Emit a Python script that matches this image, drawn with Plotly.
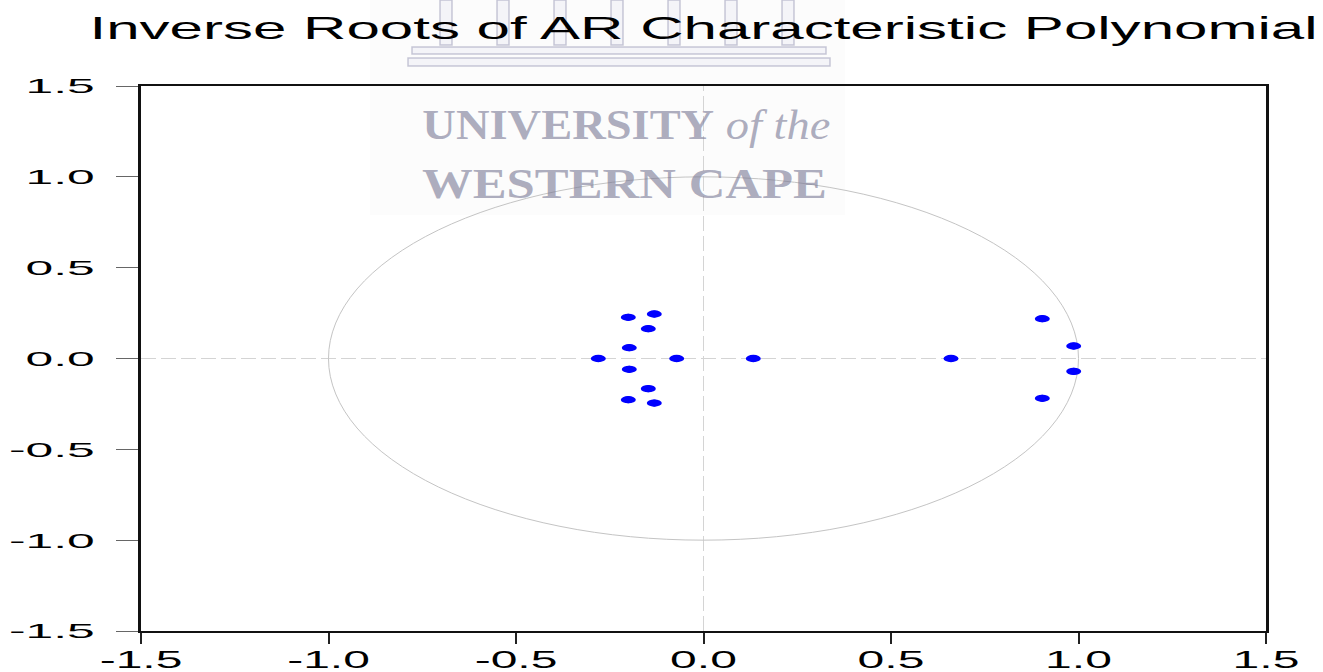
import plotly.graph_objects as go

# ---- data ----
root_re = [-0.2005, -0.1312, -0.1472, -0.1979, -0.2805, -0.0715, 0.1328, 0.660,
           -0.1979, -0.1472, -0.2005, -0.1312, 0.9035, 0.9872, 0.9872, 0.9035]
root_im = [0.2268, 0.245, 0.164, 0.0594, 0.0, 0.0, 0.0, 0.0,
           -0.0594, -0.166, -0.2268, -0.245, 0.219, 0.0688, -0.0705, -0.219]
tick_vals = [-1.5, -1.0, -0.5, 0.0, 0.5, 1.0, 1.5]
tick_text = ["-1.5", "-1.0", "-0.5", "0.0", "0.5", "1.0", "1.5"]
unit_radius = 1.0
axis_range = [-1.5, 1.5]
title_text = "Inverse Roots of AR Characteristic Polynomial"
watermark_line1 = "<b>UNIVERSITY</b> <i>of the</i>"
watermark_line2 = "<b>WESTERN CAPE</b>"

W, H = 1323, 672
ML, MR, MT, MB = 141, 57, 86, 41
PW, PH = W - ML - MR, H - MT - MB


def px(xp):
    return (xp - ML) / PW


def py(yp):
    return (H - MB - yp) / PH


dot_r = 0.02
BLUE = "#0000ff"

fig = go.Figure()
fig.add_trace(go.Scatter(
    x=root_re, y=root_im, mode="markers",
    marker=dict(color=BLUE, size=7, line=dict(width=0)),
    hoverinfo="x+y", showlegend=False))

shapes = []
# faint watermark backdrop
shapes.append(dict(type="rect", xref="paper", yref="paper",
                   x0=px(370), x1=px(845), y0=py(215), y1=py(0),
                   fillcolor="rgba(0,0,0,0.012)", line=dict(width=0), layer="below"))
# watermark pillars
pil_line = dict(color="rgba(150,150,180,0.5)", width=1.5)
pil_fill = "rgba(230,230,240,0.35)"
for c in [446, 503, 560, 617, 674, 731, 788]:
    shapes.append(dict(type="rect", xref="paper", yref="paper",
                       x0=px(c - 6), x1=px(c + 6), y0=py(45), y1=py(0),
                       fillcolor=pil_fill, line=pil_line, layer="above"))
shapes.append(dict(type="rect", xref="paper", yref="paper",
                   x0=px(412), x1=px(826), y0=py(54), y1=py(47),
                   fillcolor=pil_fill, line=pil_line, layer="above"))
shapes.append(dict(type="rect", xref="paper", yref="paper",
                   x0=px(408), x1=px(830), y0=py(66), y1=py(58),
                   fillcolor=pil_fill, line=pil_line, layer="above"))

# dashed axes through origin
shapes.append(dict(type="line", xref="x", yref="y", x0=0, x1=0,
                   y0=axis_range[0], y1=axis_range[1],
                   line=dict(color="#d4d4d4", width=1, dash="15px,5px"), layer="below"))
shapes.append(dict(type="line", xref="x", yref="y", y0=0, y1=0,
                   x0=axis_range[0], x1=axis_range[1],
                   line=dict(color="#d4d4d4", width=1, dash="15px,5px"), layer="below"))
# unit circle
shapes.append(dict(type="circle", xref="x", yref="y",
                   x0=-unit_radius, x1=unit_radius, y0=-unit_radius, y1=unit_radius,
                   line=dict(color="#c4c4c4", width=1), layer="below"))
# root dots
for xr, yi in zip(root_re, root_im):
    shapes.append(dict(type="circle", xref="x", yref="y",
                       x0=xr - dot_r, x1=xr + dot_r, y0=yi - dot_r, y1=yi + dot_r,
                       fillcolor=BLUE, line=dict(width=0), layer="above"))

wm_color = "rgba(120,120,148,0.6)"
annotations = [
    dict(text=watermark_line1, xref="paper", yref="paper", x=px(626), y=py(125),
         xanchor="center", yanchor="middle", showarrow=False,
         font=dict(family="Liberation Serif", size=42, color=wm_color)),
    dict(text=watermark_line2, xref="paper", yref="paper", x=px(624), y=py(184),
         xanchor="center", yanchor="middle", showarrow=False,
         font=dict(family="Liberation Serif", size=42, color=wm_color)),
]

fig.update_layout(
    width=W, height=H,
    margin=dict(l=ML, r=MR, t=MT, b=MB, pad=0, autoexpand=False),
    paper_bgcolor="white", plot_bgcolor="white",
    showlegend=False,
    title=dict(text=title_text, x=0.5, xref="paper", xanchor="center",
               y=1 - 28 / H, yref="container", yanchor="middle",
               font=dict(family="Liberation Sans", size=32, color="black")),
    shapes=shapes,
    annotations=annotations,
    xaxis=dict(range=axis_range, tickmode="array", tickvals=tick_vals, ticktext=tick_text,
               showgrid=False, zeroline=False, showline=True, mirror=True,
               linecolor="#111111", linewidth=2, automargin=False,
               ticks="outside", ticklen=11, tickwidth=1.5, tickcolor="#222222",
               ticklabelstandoff=-5,
               tickfont=dict(family="Liberation Sans", size=24, color="black"),
               fixedrange=True),
    yaxis=dict(range=axis_range, tickmode="array", tickvals=tick_vals, ticktext=tick_text,
               showgrid=False, zeroline=False, showline=True, mirror=True,
               linecolor="#111111", linewidth=3, automargin=False,
               ticks="outside", ticklen=22, tickwidth=1, tickcolor="#666666",
               ticklabelstandoff=17,
               tickfont=dict(family="Liberation Sans", size=21, color="black"),
               fixedrange=True),
)

# horizontal stretch of the text, as in the (horizontally stretched) reference picture
post = (
    "var gd=document.getElementById('{plot_id}');"
    "function fitF(el,f){if(!el)return;var w=el.getComputedTextLength();"
    "el.setAttribute('textLength',(w*f).toFixed(1));el.setAttribute('lengthAdjust','spacingAndGlyphs');}"
    "function fitW(el,w){if(!el)return;el.setAttribute('textLength',w);el.setAttribute('lengthAdjust','spacingAndGlyphs');}"
    "fitW(gd.querySelector('.gtitle'),1228);"
    "gd.querySelectorAll('.ytick text').forEach(function(t){fitF(t,2.37);});"
    "gd.querySelectorAll('.xtick text').forEach(function(t){fitF(t,2.0);});"
    "var an=gd.querySelectorAll('.annotation-text');"
    "if(an.length>1){fitW(an[0],408);fitW(an[1],405);}"
)

fig.write_html("out.html", post_script=post, config={"displayModeBar": False})
